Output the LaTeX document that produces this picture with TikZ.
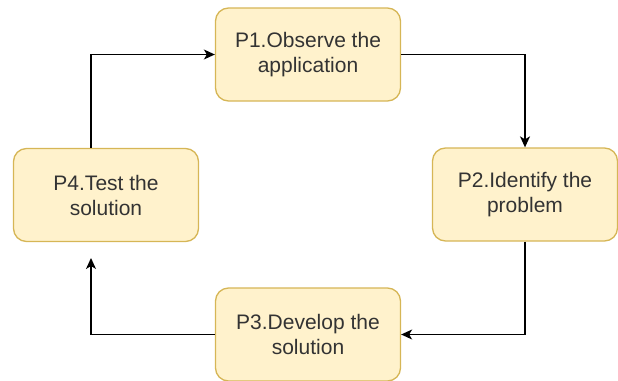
\documentclass[tikz,border=0pt]{standalone}
\usepackage{fontspec}
\setmainfont{Liberation Sans}
\usetikzlibrary{arrows.meta}
\definecolor{boxfill}{HTML}{FFF2CC}
\definecolor{boxdraw}{HTML}{D6B656}
\definecolor{txt}{HTML}{333333}
\begin{document}
\begin{tikzpicture}[x=1pt,y=-1pt,
  stepbox/.style={draw=boxdraw,fill=boxfill,line width=1.3pt,rounded corners=13pt,
    minimum width=185pt,minimum height=93pt,inner sep=0pt,align=center,
    text=txt,font=\fontsize{21}{25}\selectfont},
  conn/.style={draw=black,line width=1.3pt,-{Stealth[length=11pt,width=10pt,inset=3pt]}}]
\useasboundingbox (0,0) rectangle (618,380);
\node[stepbox] (p1) at (308,54.5) {P1.Observe the\\application};
\node[stepbox] (p2) at (525,194.5) {P2.Identify the\\problem};
\node[stepbox] (p3) at (308,334.5) {P3.Develop the\\solution};
\node[stepbox] (p4) at (106,195) {P4.Test the\\solution};
\coordinate (e4) at (91,258);
\draw[conn] (p4.north -| 91,0) |- (p1.west);
\draw[conn] (p1.east) -| (p2.north);
\draw[conn] (p2.south) |- (p3.east);
\draw[conn] (p3.west) -| (e4);
\end{tikzpicture}
\end{document}
